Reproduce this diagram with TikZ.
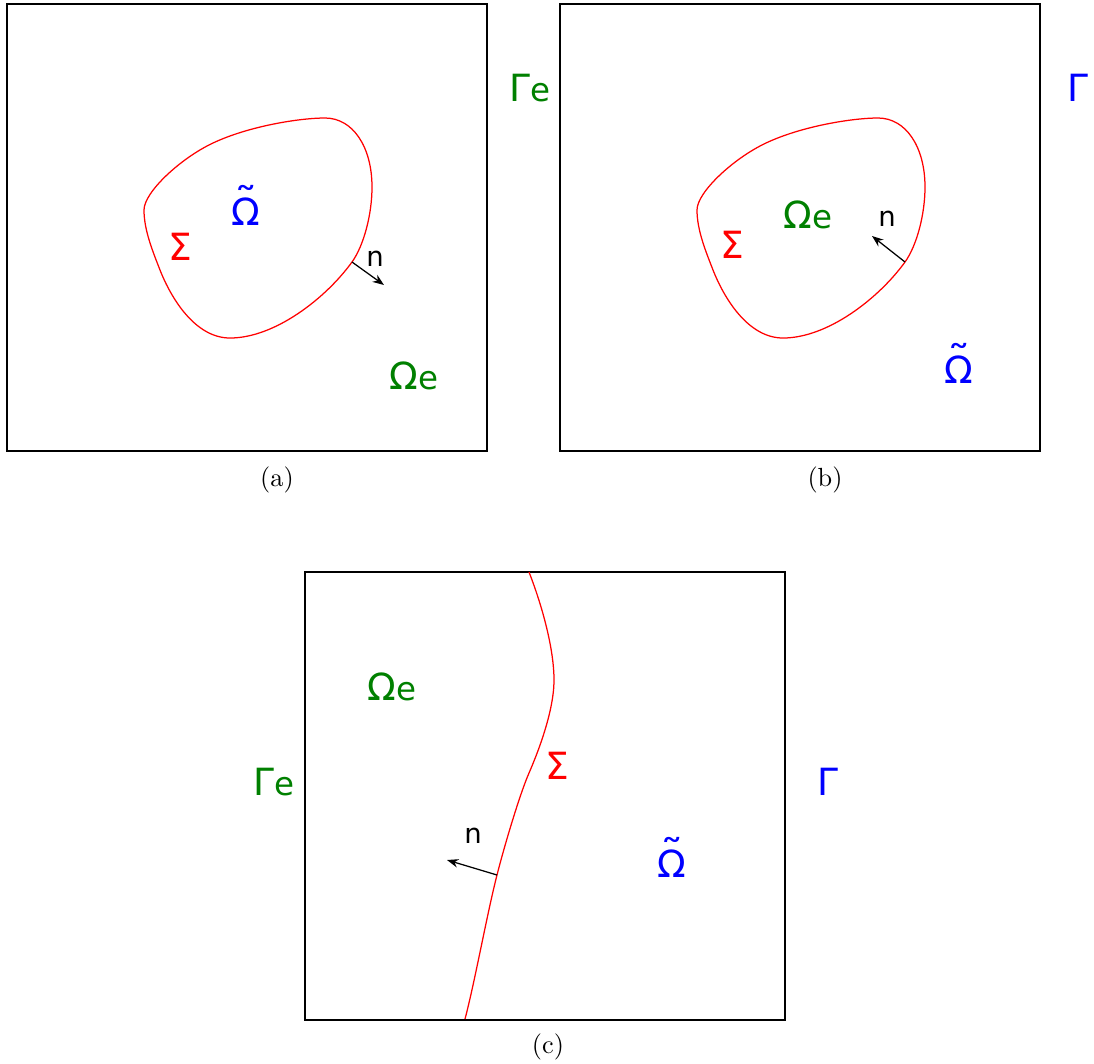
\documentclass[tikz,border=0pt]{standalone}
\usepackage{fontspec}
\newfontfamily\lblfont{DejaVu Sans}
\usepackage{xcolor}
\definecolor{regiongreen}{HTML}{008000}
\definecolor{regionblue}{HTML}{0000FF}
\definecolor{ifacered}{HTML}{FF0000}
\usetikzlibrary{arrows.meta, positioning}
\tikzset{
  domainbox/.style={draw=black, line width=0.6pt},
  iface/.style    ={draw=ifacered, line width=0.5pt},
  nvec/.style     ={-{Stealth[length=1.6mm, width=1.2mm]}, line width=0.5pt, color=black},
  glbl/.style     ={text=regiongreen, font=\lblfont\fontsize{15}{18}\selectfont, inner sep=0pt},
  blbl/.style     ={text=regionblue, font=\lblfont\fontsize{15}{18}\selectfont, inner sep=0pt},
  rlbl/.style     ={text=ifacered, font=\lblfont\fontsize{15}{18}\selectfont, inner sep=0pt},
  nlbl/.style     ={text=black, font=\lblfont\fontsize{11}{13}\selectfont, inner sep=0pt},
  caplbl/.style   ={font=\fontsize{10.5}{12}\selectfont, inner sep=0pt},
}
\newcommand{\Omt}{\ooalign{Ω\cr\hidewidth\raisebox{4.6pt}{\scalebox{1.25}[1]{˜}}\hidewidth\cr}}
\newcommand{\Ome}{Ω{\fontsize{13}{15}\selectfont e}}
\newcommand{\Game}{Γ{\fontsize{13}{15}\selectfont e}}

\begin{document}
\begin{tikzpicture}[x=0.1406mm, y=-0.1406mm]
  \useasboundingbox (0,0) rectangle (1094,1063);

  % (a) and (b): closed interface, same blob twice
  \draw[domainbox] (7,4) rectangle (487,451);
  \draw[domainbox] (560,4) rectangle (1040,451);
  \foreach \dx in {0,553} {
    \begin{scope}[shift={(\dx,0)}]
      \draw[iface] (325,118) .. controls (353,118) and (372,147) .. (372,187)
        .. controls (372,215) and (363.5,246) .. (352,262)
        .. controls (326,298) and (275,338) .. (230,338)
        .. controls (195,338) and (171,298) .. (160,270)
        .. controls (152.6,251) and (144,230) .. (144,210)
        .. controls (144,192) and (181,158) .. (213,143)
        .. controls (249,126) and (300,118) .. cycle;
    \end{scope}
  }

  % (a)
  \coordinate (na0) at (352,262);
  \coordinate (na1) at (384,285);
  \draw[nvec] (na0) -- (na1);
  \node[rlbl] (siga) at (180,247) {Σ};
  \node[blbl] (omta) at (246,212) {\Omt};
  \node[nlbl] (nla) at (375,259) {n};
  \node[glbl] (omea) at (414,376) {\Ome};
  \node[caplbl] (capa) at (277,480) {(a)};
  \node[glbl] (gamea) at (530,88) {\Game};

  % (b)
  \coordinate (nb0) at (905,262);
  \coordinate (nb1) at (872,236);
  \draw[nvec] (nb0) -- (nb1);
  \node[rlbl] (sigb) at (732,245) {Σ};
  \node[glbl] (omeb) at (808,215) {\Ome};
  \node[nlbl] (nlb) at (887,219) {n};
  \node[blbl] (omtb) at (959,370) {\Omt};
  \node[blbl] (gamb) at (1078,88) {Γ};
  \node[caplbl] (capb) at (825,480) {(b)};

  % (c): open interface
  \draw[domainbox] (305,572) rectangle (785,1020);
  \draw[iface] (529,572) .. controls (543,608) and (554,650) .. (554,680)
    .. controls (554,710) and (539,750) .. (529,773)
    .. controls (519,796) and (503,851) .. (497,875)
    .. controls (487,914) and (475,981) .. (465,1019);
  \coordinate (nc0) at (497,875);
  \coordinate (nc1) at (447,860);
  \draw[nvec] (nc0) -- (nc1);
  \node[glbl] (omec) at (392,687) {\Ome};
  \node[glbl] (gamec) at (274,782) {\Game};
  \node[rlbl] (sigc) at (557,766) {Σ};
  \node[blbl] (gamc) at (828,782) {Γ};
  \node[nlbl] (nlc) at (473,836) {n};
  \node[blbl] (omtc) at (672,864) {\Omt};
  \node[caplbl] (capc) at (548,1047) {(c)};
\end{tikzpicture}
\end{document}
